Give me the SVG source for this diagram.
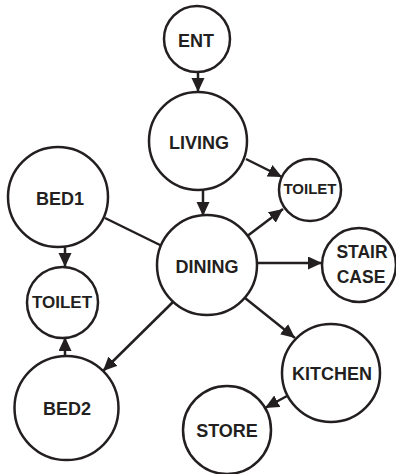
<svg xmlns="http://www.w3.org/2000/svg" width="396" height="474" viewBox="0 0 396 474">
  <defs>
    <marker id="arrow" markerUnits="userSpaceOnUse" markerWidth="15" markerHeight="14" refX="14" refY="6.5" orient="auto">
      <path d="M0,0 L14,6.5 L0,13 z" fill="#231f20"/>
    </marker>
  </defs>
  <style>
    .node circle { fill: #ffffff; stroke: #231f20; stroke-width: 2.5; }
    .node text { font-family: "Liberation Sans", Arial, sans-serif; font-weight: bold; font-size: 18px; fill: #231f20; text-anchor: middle; }
    .edge { stroke: #231f20; stroke-width: 2.5; fill: none; }
    .arrow { marker-end: url(#arrow); }
  </style>
  <rect width="396" height="474" fill="#ffffff"/>

  <g id="connectors">
    <line class="edge arrow" x1="198" y1="72" x2="198" y2="92"/>
    <line class="edge arrow" x1="246" y1="159" x2="282" y2="177"/>
    <line class="edge arrow" x1="203" y1="190" x2="203" y2="216"/>
    <line class="edge arrow" x1="246" y1="237" x2="283" y2="209"/>
    <line class="edge arrow" x1="257" y1="263" x2="322" y2="263"/>
    <line class="edge arrow" x1="245" y1="298" x2="295" y2="338"/>
    <line class="edge arrow" x1="287" y1="396" x2="265" y2="408"/>
    <line class="edge" x1="105" y1="218" x2="162" y2="246"/>
    <line class="edge arrow" x1="65" y1="246" x2="65" y2="267"/>
    <line class="edge arrow" x1="173" y1="302" x2="103" y2="371"/>
    <line class="edge arrow" x1="65" y1="357" x2="65" y2="337"/>
  </g>

  <g id="ent" class="node">
    <circle cx="197" cy="39" r="33"/>
    <text x="196" y="46.5">ENT</text>
  </g>
  <g id="living" class="node">
    <circle cx="198" cy="141" r="49"/>
    <text x="199" y="148.5">LIVING</text>
  </g>
  <g id="toilet-living" class="node">
    <circle cx="310" cy="190" r="31"/>
    <text x="310" y="193.5" style="font-size:15px">TOILET</text>
  </g>
  <g id="dining" class="node">
    <circle cx="207" cy="265" r="50"/>
    <text x="207" y="272.5">DINING</text>
  </g>
  <g id="staircase" class="node">
    <circle cx="359" cy="265" r="37"/>
    <text x="362" y="258" style="font-size:17.5px">STAIR</text>
    <text x="361" y="283" style="font-size:17.5px">CASE</text>
  </g>
  <g id="kitchen" class="node">
    <circle cx="331" cy="373" r="49"/>
    <text x="332" y="379.5">KITCHEN</text>
  </g>
  <g id="store" class="node">
    <circle cx="227" cy="430" r="44"/>
    <text x="227" y="436.5">STORE</text>
  </g>
  <g id="bed1" class="node">
    <circle cx="58" cy="197" r="50"/>
    <text x="60" y="204.5">BED1</text>
  </g>
  <g id="toilet-bed" class="node">
    <circle cx="62.5" cy="302.5" r="35.5"/>
    <text x="62" y="307.5" style="font-size:17px">TOILET</text>
  </g>
  <g id="bed2" class="node">
    <circle cx="66.5" cy="408" r="52"/>
    <text x="67" y="414.5">BED2</text>
  </g>
</svg>
